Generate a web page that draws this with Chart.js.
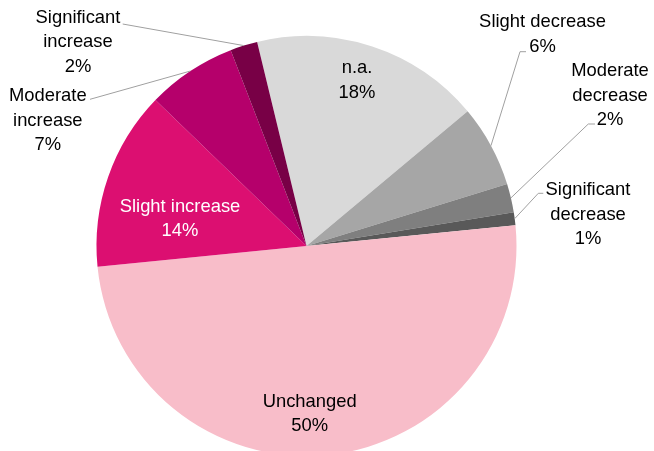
<!DOCTYPE html>
<html>
<head>
<meta charset="utf-8">
<script src="https://cdn.jsdelivr.net/npm/chart.js@4.4.1/dist/chart.umd.min.js"></script>
<style>
  html, body { margin: 0; padding: 0; background: #ffffff; overflow: hidden; }
  #wrap { position: relative; width: 654px; height: 470px; }
</style>
</head>
<body>
<div id="wrap"><canvas id="c" width="654" height="470"></canvas></div>
<script>
// ---- data ----
const categories = ["n.a.", "Slight decrease", "Moderate decrease", "Significant decrease",
                    "Unchanged", "Slight increase", "Moderate increase", "Significant increase"];
const shares = [17.7, 6.3, 2.2, 1.0, 50.0, 13.8, 6.9, 2.1];
const labelLines = [
  ["n.a."],
  ["Slight decrease"],
  ["Moderate", "decrease"],
  ["Significant", "decrease"],
  ["Unchanged"],
  ["Slight increase"],
  ["Moderate", "increase"],
  ["Significant", "increase"]
];
const sliceColors = ["#d9d9d9", "#a6a6a6", "#7f7f7f", "#595959",
                     "#f8bdc9", "#dc0f71", "#b5006b", "#780046"];
const labelColors = ["#000", "#000", "#000", "#000", "#000", "#fff", "#000", "#000"];

// ---- label layout (offsets from pie centre, px) ----
const labelLayout = [
  { tx: 50.5,   ty: -173 },
  { tx: 236,    ty: -218.7, leader: [[219.5, -194.3], [213.5, -194.3]] },
  { tx: 303.5,  ty: -170,   leader: [[288.5, -122], [281.8, -122]] },
  { tx: 281.5,  ty: -51,    leader: [[236.8, -52.7], [231.8, -52.7]] },
  { tx: 3.2,    ty: 160.7 },
  { tx: -126.5, ty: -34.3 },
  { tx: -258.7, ty: -145,   leader: [[-216.5, -146.7]] },
  { tx: -228.5, ty: -223.3, leader: [[-183.8, -222]] }
];
const LINE_H = 24.5;
const FONT = "18.4px 'Liberation Sans', Arial, sans-serif";

const labelPlugin = {
  id: 'pieLabels',
  afterDatasetsDraw(chart) {
    const ctx = chart.ctx;
    const meta = chart.getDatasetMeta(0);
    const data = chart.data.datasets[0].data;
    const total = data.reduce((a, b) => a + b, 0);
    ctx.save();
    meta.data.forEach((arc, i) => {
      const p = arc.getProps(['x', 'y', 'startAngle', 'endAngle', 'outerRadius'], true);
      const cx = p.x, cy = p.y;
      const mid = (p.startAngle + p.endAngle) / 2;
      const L = labelLayout[i];
      if (L.leader) {
        ctx.beginPath();
        ctx.strokeStyle = '#a0a0a0';
        ctx.lineWidth = 1;
        L.leader.forEach((pt, k) => {
          if (k === 0) ctx.moveTo(cx + pt[0], cy + pt[1]);
          else ctx.lineTo(cx + pt[0], cy + pt[1]);
        });
        ctx.lineTo(cx + Math.cos(mid) * p.outerRadius, cy + Math.sin(mid) * p.outerRadius);
        ctx.stroke();
      }
      const lines = labelLines[i].concat([Math.round(data[i] / total * 100) + '%']);
      ctx.font = FONT;
      ctx.fillStyle = labelColors[i];
      ctx.textAlign = 'center';
      ctx.textBaseline = 'alphabetic';
      lines.forEach((t, k) => {
        ctx.fillText(t, cx + L.tx, cy + L.ty + k * LINE_H);
      });
    });
    ctx.restore();
  }
};

new Chart(document.getElementById('c'), {
  type: 'pie',
  data: {
    labels: categories,
    datasets: [{
      data: shares,
      backgroundColor: sliceColors,
      borderWidth: 0
    }]
  },
  options: {
    responsive: false,
    animation: false,
    rotation: -13.6,
    layout: { padding: { left: 96.5, right: 137.5, top: 36, bottom: 14 } },
    plugins: {
      legend: { display: false },
      tooltip: { enabled: false },
      title: { display: false }
    }
  },
  plugins: [labelPlugin]
});
</script>
</body>
</html>
